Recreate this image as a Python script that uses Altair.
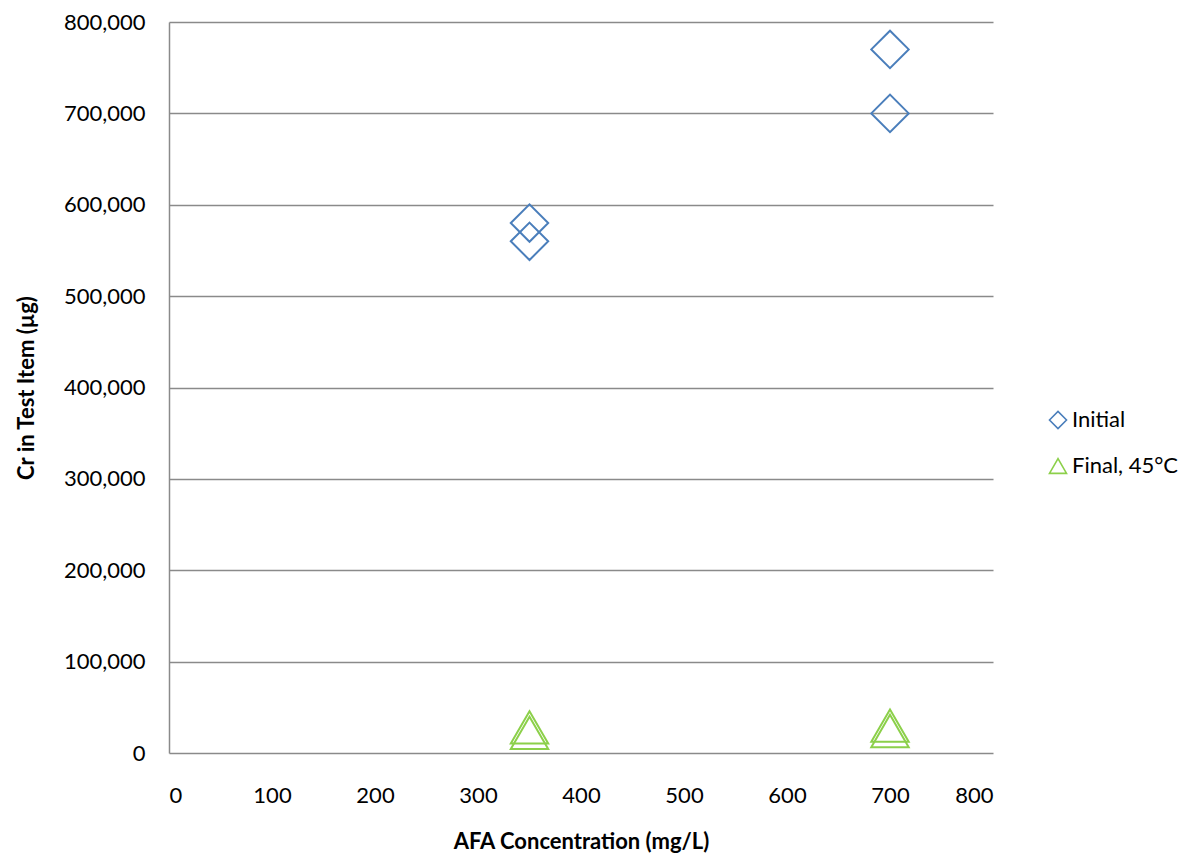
import altair as alt
import pandas as pd

series = ["Initial", "Initial", "Initial", "Initial",
          "Final, 45°C", "Final, 45°C", "Final, 45°C", "Final, 45°C"]
conc = [350, 350, 700, 700, 350, 350, 700, 700]
cr = [580000, 560000, 770000, 700000, 28000, 22000, 30000, 24000]

df = pd.DataFrame({"series": series, "conc": conc, "cr": cr})

FONT = "Lato"
GRID = "#8a8a8a"

leg = alt.Legend(title=None, orient="none", legendX=878, legendY=387,
                 symbolSize=290, symbolStrokeWidth=1.6, labelFontSize=22,
                 labelFont=FONT, rowPadding=23, labelOffset=3,
                 labelColor="#000000")

chart = alt.Chart(df).mark_point(filled=False, strokeWidth=2, size=1400, opacity=1).encode(
    x=alt.X("conc:Q",
            scale=alt.Scale(domain=[0, 800], nice=False),
            axis=alt.Axis(title="AFA Concentration (mg/L)", values=list(range(0, 801, 100)),
                          grid=False, domain=False, ticks=False, labelPadding=32,
                          titlePadding=25, format="d")),
    y=alt.Y("cr:Q",
            scale=alt.Scale(domain=[0, 800000], nice=False),
            axis=alt.Axis(title="Cr in Test Item (µg)", values=list(range(0, 800001, 100000)),
                          grid=True, gridColor=GRID, gridWidth=1.3, domain=True,
                          domainColor=GRID, domainWidth=1.5, ticks=False,
                          labelPadding=24, titlePadding=25, format=",d")),
    shape=alt.Shape("series:N",
                    scale=alt.Scale(domain=["Initial", "Final, 45°C"], range=["diamond", "triangle-up"]),
                    legend=leg),
    color=alt.Color("series:N",
                    scale=alt.Scale(domain=["Initial", "Final, 45°C"], range=["#4a7ebb", "#8cd04a"]),
                    legend=leg),
).properties(
    width=824, height=731,
    autosize=alt.AutoSizeParams(type="none"),
    padding={"left": 161, "top": 14, "right": 199, "bottom": 102},
).configure_view(stroke=None).configure_axis(
    labelFont=FONT, labelFontSize=22, labelColor="#000000",
    titleFont=FONT, titleFontSize=22, titleFontWeight="bold", titleColor="#000000",
)

chart.save("out.html", embed_options={"renderer": "svg", "actions": False})
